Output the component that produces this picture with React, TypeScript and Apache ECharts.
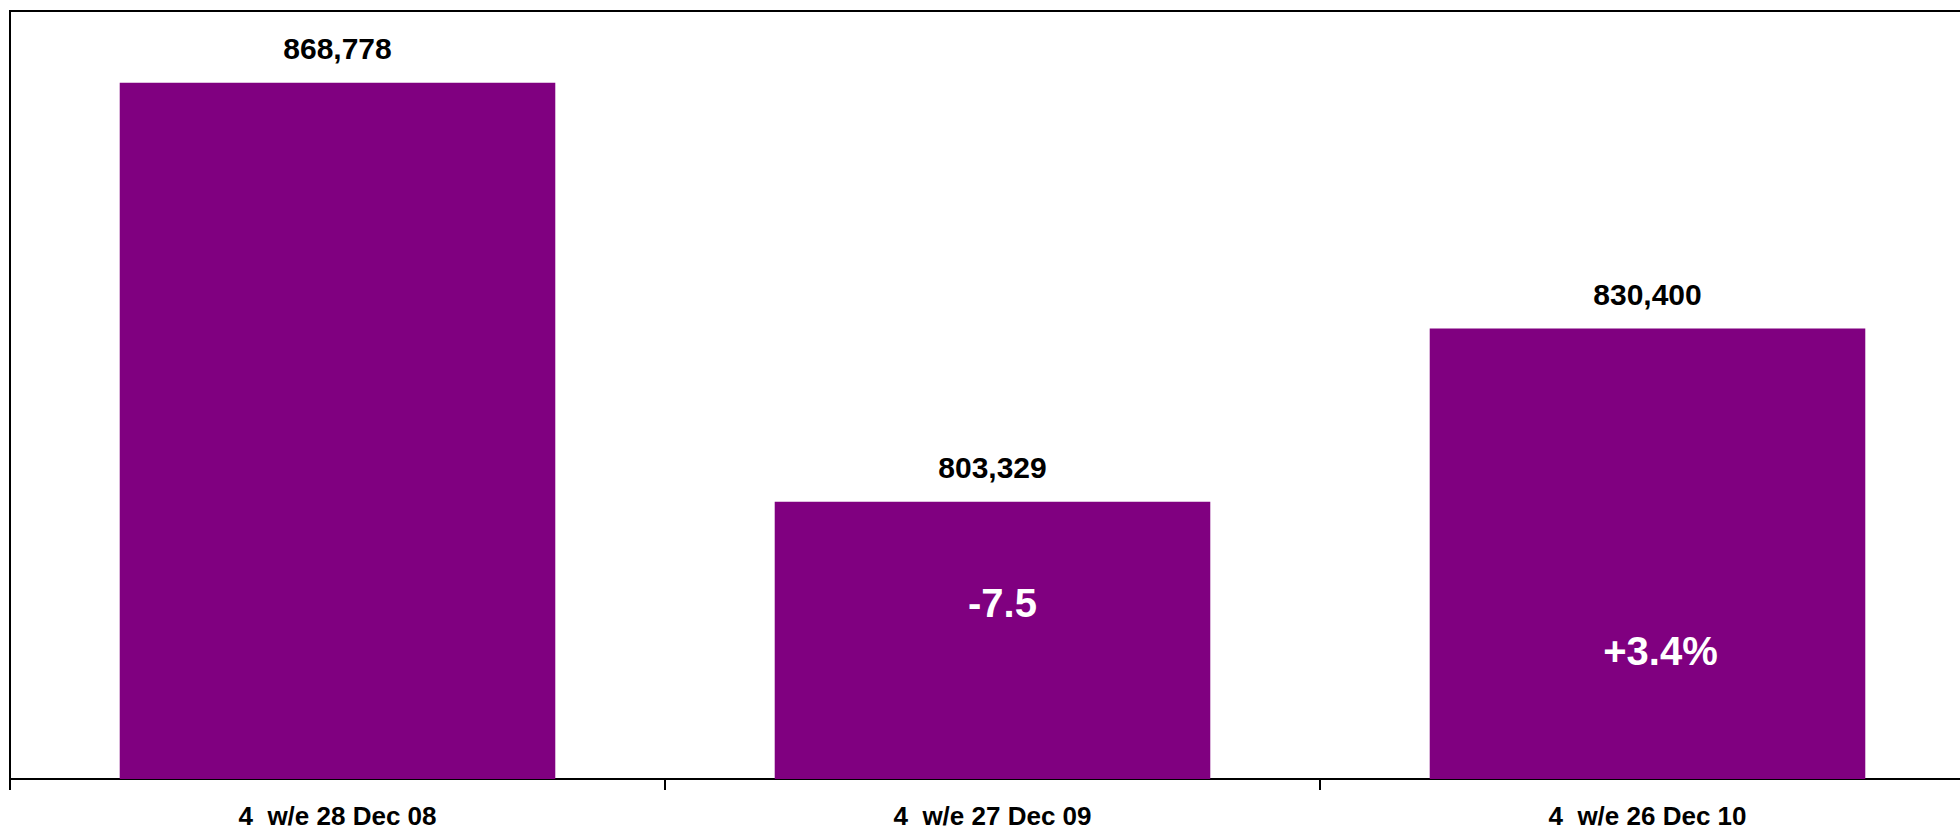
import React, { useEffect, useRef } from "react";
import * as echarts from "echarts";

const categories = ["4  w/e 28 Dec 08", "4  w/e 27 Dec 09", "4  w/e 26 Dec 10"];
const values = [868778, 803329, 830400];
const changeLabels = ["", "-7.5", "+3.4%"];
const changeOffsets = [0, 81, 303];
const changeShiftX = [0, 10, 13];

const FONT = "'Liberation Sans', Arial, Helvetica, sans-serif";

export default function App() {
  const ref = useRef<HTMLDivElement>(null);
  useEffect(() => {
    document.body.style.margin = "0";
    if (!ref.current) return;
    const chart = echarts.init(ref.current, undefined, { renderer: "svg" });
    const fmt = (v: number) => v.toLocaleString("en-US");
    chart.setOption({
      animation: false,
      backgroundColor: "#ffffff",
      grid: {
        left: 10,
        width: 1965,
        top: 11,
        bottom: 52,
        containLabel: false,
        outerBoundsMode: "none",
        show: true,
        borderColor: "#000000",
        borderWidth: 2,
        backgroundColor: "transparent",
      },
      xAxis: {
        type: "category",
        data: categories,
        axisLine: { show: true, lineStyle: { color: "#000000", width: 2 } },
        axisTick: { show: true, length: 11, lineStyle: { color: "#000000", width: 2 } },
        axisLabel: {
          color: "#000000",
          fontFamily: FONT,
          fontWeight: "bold",
          fontSize: 26,
          lineHeight: 26,
          margin: 24,
          interval: 0,
        },
        splitLine: { show: false },
      },
      yAxis: {
        type: "value",
        min: 760000,
        max: 880000,
        axisLine: { show: true, lineStyle: { color: "#000000", width: 2 } },
        axisTick: { show: false },
        axisLabel: { show: false },
        splitLine: { show: false },
      },
      series: [
        {
          type: "bar",
          data: values,
          barWidth: "66.5%",
          itemStyle: { color: "#800080" },
          label: {
            show: true,
            position: "top",
            distance: 19,
            color: "#000000",
            fontFamily: FONT,
            fontWeight: "bold",
            fontSize: 30,
            formatter: (p: any) => fmt(p.value),
          },
        },
        {
          type: "bar",
          data: values.map((v, i) => ({
            value: v,
            label: {
              show: changeLabels[i] !== "",
              position: "insideTop",
              distance: changeOffsets[i],
              offset: [changeShiftX[i], 0],
              formatter: changeLabels[i],
            },
          })),
          barWidth: "66.5%",
          barGap: "-100%",
          itemStyle: { color: "transparent" },
          label: {
            color: "#ffffff",
            fontFamily: FONT,
            fontWeight: "bold",
            fontSize: 40,
          },
          silent: true,
        },
      ],
    });
    return () => chart.dispose();
  }, []);
  return <div ref={ref} style={{ width: 1960, height: 831 }} />;
}
